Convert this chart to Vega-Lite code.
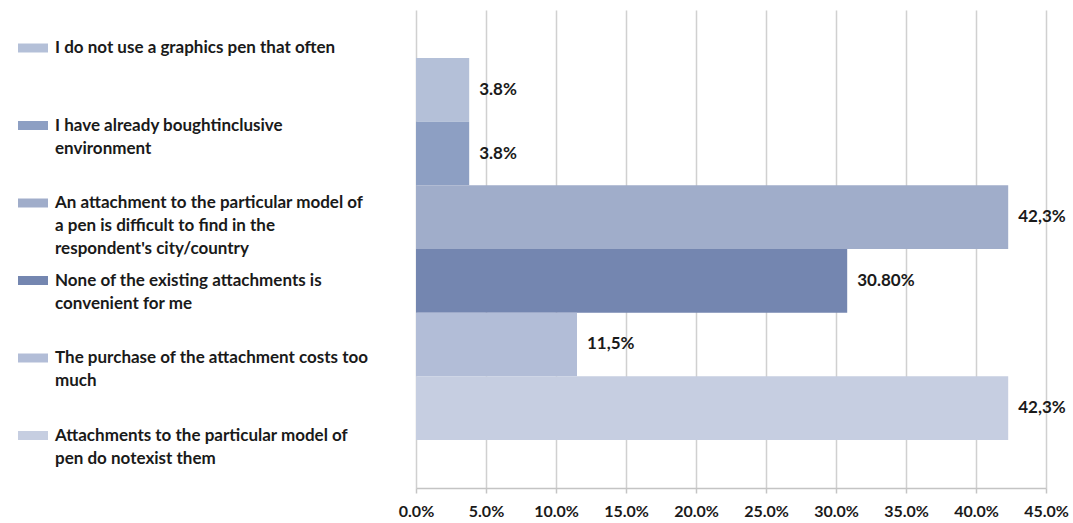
{
  "$schema": "https://vega.github.io/schema/vega-lite/v6.json",
  "width": 630,
  "height": 478,
  "padding": {"left": 18, "top": 10, "right": 5, "bottom": 2},
  "background": "white",
  "config": {
    "view": {"stroke": null},
    "style": {"guide-label": {"lineHeight": 23}}
  },
  "data": {
    "values": [
      {"answer": "I do not use a graphics pen that often", "pct": 3.8, "label": "3.8%"},
      {"answer": "I have already boughtinclusive\nenvironment", "pct": 3.8, "label": "3.8%"},
      {"answer": "An attachment to the particular model of\na pen is difficult to find in the\nrespondent's city/country", "pct": 42.3, "label": "42,3%"},
      {"answer": "None of the existing attachments is\nconvenient for me", "pct": 30.8, "label": "30.80%"},
      {"answer": "The purchase of the attachment costs too\nmuch", "pct": 11.5, "label": "11,5%"},
      {"answer": "Attachments to the particular model of\npen do notexist them", "pct": 42.3, "label": "42,3%"}
    ]
  },
  "encoding": {
    "y": {"field": "answer", "type": "nominal", "sort": null, "axis": null,
          "scale": {"paddingInner": 0, "paddingOuter": 0.754}},
    "x": {"field": "pct", "type": "quantitative",
          "scale": {"domain": [0, 45], "nice": false, "zero": true},
          "axis": {"title": null, "values": [0, 5, 10, 15, 20, 25, 30, 35, 40, 45],
                   "labelExpr": "format(datum.value, '.1f') + '%'",
                   "labelOverlap": false, "labelFlush": false, "labelBound": false,
                   "grid": true, "gridColor": "#d0d0d0", "gridWidth": 1.5,
                   "domainColor": "#c4c4c4", "domainWidth": 1.5,
                   "tickColor": "#c4c4c4", "tickSize": 5, "tickWidth": 1.5,
                   "labelFont": "Lato", "labelFontWeight": "bold", "labelFontSize": 16,
                   "labelColor": "#1a1a1a", "labelPadding": 10}}
  },
  "layer": [
    {
      "mark": {"type": "bar"},
      "encoding": {
        "color": {"field": "answer", "type": "nominal", "sort": null,
                  "scale": {"range": ["#b4c0d8", "#8d9fc3", "#a0adca", "#7486b0", "#b2bdd7", "#c6cee1"]},
                  "legend": {"orient": "none", "legendX": -398, "legendY": 23, "title": null,
                             "symbolType": "M-1,-0.3H1V0.3H-1Z", "symbolSize": 900,
                             "symbolStrokeWidth": 0,
                             "labelExpr": "slice(split(datum.label + '\\n \\n ', '\\n'), 0, 3)",
                             "labelFont": "Lato", "labelFontWeight": "bold", "labelFontSize": 17,
                             "labelColor": "#1a1a1a", "labelLimit": 0, "labelOffset": 7,
                             "rowPadding": 8.5, "labelBaseline": "middle"}}
      }
    },
    {
      "mark": {"type": "text", "align": "left", "baseline": "middle", "dx": 10,
               "font": "Lato", "fontWeight": "bold", "fontSize": 17, "color": "#1a1a1a"},
      "encoding": {"text": {"field": "label"}}
    }
  ]
}
